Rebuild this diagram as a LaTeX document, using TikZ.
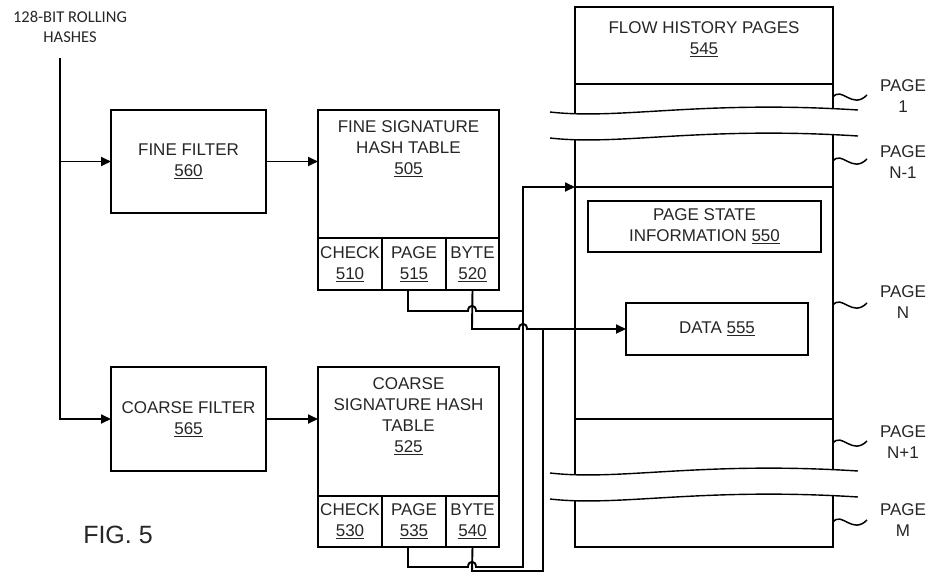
\documentclass[tikz,border=0pt]{standalone}
\usepackage{fontspec}
\setmainfont{Liberation Sans}
\newfontfamily\calibfont{Carlito}
\usetikzlibrary{arrows.meta}
\newcommand\brkband[1]{%
  \fill[white] (550,#1+2) .. controls (620,#1+10) and (700,#1-10) .. (858,#1) -- (858,#1+26) .. controls (700,#1+16) and (620,#1+36) .. (550,#1+28) -- cycle;
  \draw[brk] (550,#1+2) .. controls (620,#1+10) and (700,#1-10) .. (858,#1);
  \draw[brk] (550,#1+28) .. controls (620,#1+36) and (700,#1+16) .. (858,#1+26);}
\newcommand\tld[1]{\draw[tl] (833,#1) .. controls (842,#1-11) and (852,#1+13) .. (867,#1-2);}
\begin{document}
\begin{tikzpicture}[x=1pt,y=-1pt,
  ln/.style={line width=1.9pt, black},
  box/.style={draw, line width=1.9pt, inner sep=0pt, outer sep=0pt, align=center, text=black!85, font=\fontsize{17}{21}\selectfont},
  arr/.style={ln, -{Triangle[length=10pt,width=9pt]}},
  lbl/.style={align=center, inner sep=0pt, text=black!85, font=\fontsize{17}{21}\selectfont},
  brk/.style={line width=1.4pt, black},
  tl/.style={line width=1.5pt, black}]
\useasboundingbox (0,0) rectangle (927,573);

% input label
\node[align=center, inner sep=0pt, text=black!85, font=\calibfont\fontsize{16.5}{20}\selectfont] (title) at (70,27) {128-BIT ROLLING\\HASHES};
\coordinate (in) at (60,58);

% filters
\node[box, minimum width=155pt, minimum height=103pt, anchor=north west] (ff) at (111,110) {FINE FILTER\\\underline{560}};
\node[box, minimum width=155pt, minimum height=104pt, anchor=north west] (cf) at (111,367) {COARSE FILTER\\\underline{565}};

% fine signature hash table
\node[box, minimum width=181pt, minimum height=180pt, anchor=north west] (fst) at (318,110) {};
\node[lbl] (fstl) at (408.5,149) {FINE SIGNATURE\\HASH TABLE\\\underline{505}};
\node[box, minimum width=64pt, minimum height=52pt, anchor=north west] (c510) at (318,238) {CHECK\\\underline{510}};
\node[box, minimum width=64pt, minimum height=52pt, anchor=north west] (p515) at (382,238) {PAGE\\\underline{515}};
\node[box, minimum width=53pt, minimum height=52pt, anchor=north west] (b520) at (446,238) {BYTE\\\underline{520}};

% coarse signature hash table
\node[box, minimum width=181pt, minimum height=180pt, anchor=north west] (cst) at (318,367) {};
\node[lbl] (cstl) at (408.5,416) {COARSE\\SIGNATURE HASH\\TABLE\\\underline{525}};
\node[box, minimum width=64pt, minimum height=51pt, anchor=north west] (c530) at (318,496) {CHECK\\\underline{530}};
\node[box, minimum width=64pt, minimum height=51pt, anchor=north west] (p535) at (382,496) {PAGE\\\underline{535}};
\node[box, minimum width=53pt, minimum height=51pt, anchor=north west] (b540) at (446,496) {BYTE\\\underline{540}};

% flow history pages
\node[box, minimum width=258pt, minimum height=540pt, anchor=north west] (fh) at (575,7) {};
\node[lbl] (fhl) at (704,39) {FLOW HISTORY PAGES\\\underline{545}};
\draw[ln] (575,84) -- (833,84);
\draw[ln] (575,187) -- (833,187);
\draw[ln] (575,419) -- (833,419);
\node[box, minimum width=233pt, minimum height=51pt, anchor=north west] (psi) at (588,201) {PAGE STATE\\INFORMATION \underline{550}};
\node[box, minimum width=182pt, minimum height=52pt, anchor=north west] (data) at (626,303) {DATA \underline{555}};
\brkband{110}
\brkband{471}

% page labels
\tld{97}
\tld{161}
\tld{305}
\tld{443}
\tld{522}
\node[lbl] (pg1) at (903,96) {PAGE\\1};
\node[lbl] (pgn1) at (903,162) {PAGE\\N-1};
\node[lbl] (pgn) at (903,302) {PAGE\\N};
\node[lbl] (pgnp) at (903,442) {PAGE\\N+1};
\node[lbl] (pgm) at (903,520) {PAGE\\M};

% input connectors
\draw[arr] (in) |- (cf.west);
\draw[arr] (in |- ff.west) -- (ff.west);
\draw[arr] (ff.east) -- (ff.east -| fst.west);
\draw[arr] (cf.east) -- (cf.east -| cst.west);

% page connectors
\coordinate (pgNtop) at (575,187);
\draw[arr] ([xshift=-6pt]p515.south) -- (408,311) -- (468,311) .. controls (468,304) and (476,304) .. (476,311) -- (523,311) -- (523,187) -- (pgNtop);
\draw[ln] ([xshift=-6pt]p535.south) -- (408,567) -- (468,567) .. controls (468,560) and (476,560) .. (476,567) -- (523,567) -- (523,311);
% byte connectors
\draw[arr] (b520.south) -- (472,329) -- (519,329) .. controls (519,322) and (527,322) .. (527,329) -- (data.west);
\draw[ln] (b540.south) -- (472,571) -- (543,571) -- (543,329);

% figure label
\node[inner sep=0pt, text=black!85, font=\fontsize{25}{30}\selectfont] (fig) at (118,535) {FIG. 5};
\end{tikzpicture}
\end{document}
